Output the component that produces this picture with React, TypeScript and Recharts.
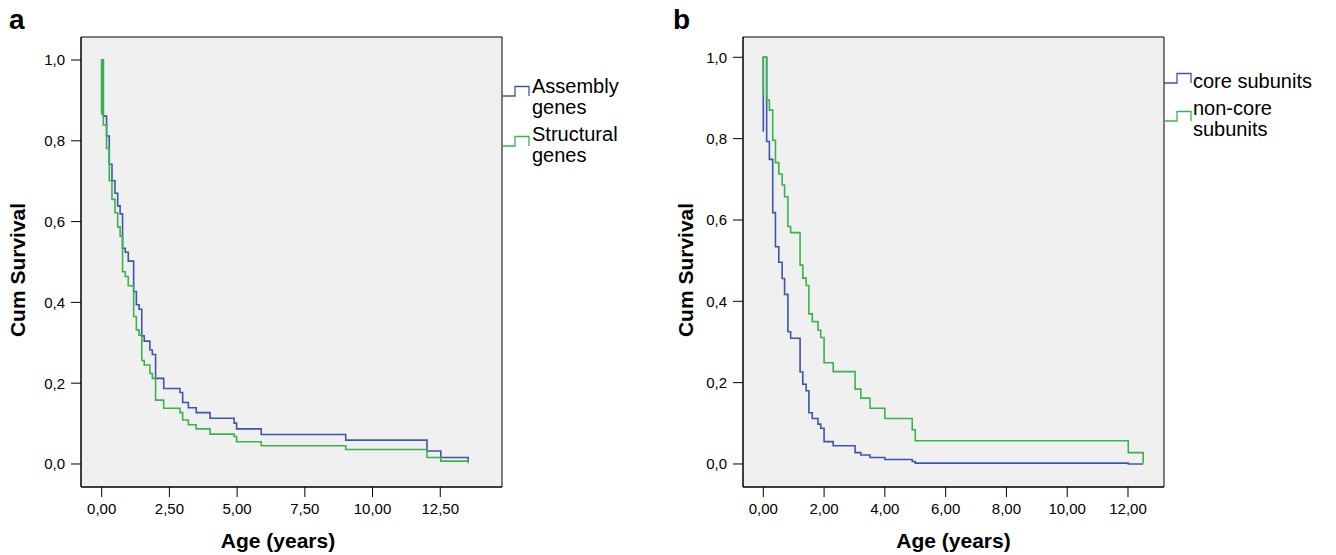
import React from 'react';
import { LineChart, Line, XAxis, YAxis, ReferenceArea, CartesianGrid, Legend, Label } from 'recharts';

// ---------- Data ----------
// Panel a: Kaplan-Meier, Assembly vs Structural genes
const ageA = [0, 0, 0.06, 0.18, 0.28, 0.38, 0.49, 0.59, 0.68, 0.77, 0.87, 0.98, 1.18, 1.28, 1.38, 1.48, 1.57, 1.78, 1.87, 1.99, 2.29, 2.89, 2.99, 3.2, 3.49, 4.0, 4.89, 4.98, 5.89, 9.01, 12.01, 12.52, 13.53];
const assemblySurvival = [0.87, 1.0, 0.861, 0.812, 0.742, 0.701, 0.67, 0.639, 0.619, 0.534, 0.524, 0.502, 0.427, 0.394, 0.383, 0.317, 0.304, 0.282, 0.271, 0.212, 0.187, 0.177, 0.152, 0.139, 0.127, 0.113, 0.101, 0.087, 0.073, 0.059, 0.032, 0.016, 0.006];
const structuralSurvival = [0.864, 1.0, 0.839, 0.781, 0.701, 0.655, 0.622, 0.587, 0.564, 0.476, 0.464, 0.441, 0.365, 0.332, 0.319, 0.256, 0.245, 0.224, 0.212, 0.158, 0.138, 0.127, 0.109, 0.097, 0.087, 0.074, 0.068, 0.055, 0.045, 0.036, 0.016, 0.007, 0.002];

// Panel b: core vs non-core subunits
const ageB = [0, 0, 0.11, 0.2, 0.31, 0.4, 0.51, 0.62, 0.7, 0.81, 0.9, 1.21, 1.3, 1.41, 1.5, 1.61, 1.8, 1.89, 2.0, 2.3, 3.02, 3.21, 3.51, 4.0, 4.9, 5.0, 12.01, 12.5];
const coreSurvival = [0.817, 1.0, 0.793, 0.749, 0.618, 0.534, 0.496, 0.456, 0.417, 0.325, 0.309, 0.226, 0.196, 0.18, 0.126, 0.112, 0.098, 0.088, 0.055, 0.045, 0.028, 0.022, 0.016, 0.011, 0.006, 0.002, 0.0, 0.0];
const nonCoreSurvival = [0.907, 1.0, 0.895, 0.87, 0.796, 0.741, 0.713, 0.686, 0.657, 0.584, 0.569, 0.489, 0.457, 0.439, 0.369, 0.35, 0.329, 0.311, 0.249, 0.227, 0.184, 0.162, 0.137, 0.112, 0.084, 0.057, 0.028, 0.002];

const xTicksA = [0, 2.5, 5, 7.5, 10, 12.5];
const xTicksB = [0, 2, 4, 6, 8, 10, 12];
const yTicks = [0, 0.2, 0.4, 0.6, 0.8, 1.0];

const seriesNamesA = ['Assembly genes', 'Structural genes'];
const seriesNamesB = ['core subunits', 'non-core subunits'];

// ---------- Styles ----------
const FONT = '"Liberation Sans", Arial, Helvetica, sans-serif';
const BLUE = '#3b55b0';
const GREEN = '#36b64a';
const BG = '#f0f0f0';

const toRows = (t: number[], s: number[]) => t.map((x, i) => ({ t: x, s: s[i] }));
const fmtX = (v: number) => v.toFixed(2).replace('.', ',');
const fmtY = (v: number) => v.toFixed(1).replace('.', ',');

const XTitle = (props: any) => {
  const { viewBox, value, dx } = props;
  const { x, y, width, height } = viewBox;
  return (
    <text x={x + width / 2 + dx} y={y + height - 7} textAnchor="middle" fontFamily={FONT} fontSize={21} fontWeight="bold" fill="#000">
      {value}
    </text>
  );
};

const YTitle = (props: any) => {
  const { viewBox, value, cx, dy } = props;
  const { y, height } = viewBox;
  const cy = y + height / 2 + dy;
  return (
    <text x={cx} y={cy} dy="0.355em" textAnchor="middle" transform={`rotate(-90, ${cx}, ${cy})`} fontFamily={FONT} fontSize={21} fontWeight="bold" fill="#000">
      {value}
    </text>
  );
};

type LegendItem = { lines: string[]; color: string; symTop: number; textTop: number };

const StepLegend = ({ items, textLeft, lineH }: { items: LegendItem[]; textLeft: number; lineH: number }) => (
  <div style={{ position: 'relative', width: 170, height: 200, fontFamily: FONT, fontSize: 20, color: '#000' }}>
    {items.map((it, i) => (
      <React.Fragment key={i}>
        <svg style={{ position: 'absolute', left: 0, top: it.symTop }} width={28} height={14}>
          <path d="M0 12 H13 V2.5 H27 V12" fill="none" stroke={it.color} strokeWidth={1.3} />
        </svg>
        <div style={{ position: 'absolute', left: textLeft, top: it.textTop, lineHeight: `${lineH}px`, whiteSpace: 'nowrap' }}>
          {it.lines.map((l, j) => (
            <div key={j}>{l}</div>
          ))}
        </div>
      </React.Fragment>
    ))}
  </div>
);

type PanelProps = {
  left: number;
  letter: string;
  yAxisWidth: number;
  marginRight: number;
  xDomain: [number, number];
  yDomain: [number, number];
  xTicks: number[];
  series: { rows: { t: number; s: number }[]; color: string; name: string }[];
  titleDx: number;
  legendItems: LegendItem[];
  legendTextLeft: number;
  legendLineH: number;
};

const Panel = (p: PanelProps) => {
  const W = 668;
  const H = 555;
  const plotRight = W - p.marginRight;
  return (
    <div style={{ position: 'absolute', left: p.left, top: 0, width: W, height: H }}>
      <div style={{ position: 'absolute', left: p.letter === 'a' ? 9 : 5, top: 0, fontFamily: FONT, fontSize: 28, fontWeight: 'bold', lineHeight: '40px', color: '#000' }}>
        {p.letter}
      </div>
      <LineChart width={W} height={H} margin={{ top: 37, right: p.marginRight, bottom: 0, left: 0 }}>
        <CartesianGrid horizontal={false} vertical={false} fill={BG} fillOpacity={1} />
        <XAxis
          type="number"
          dataKey="t"
          domain={p.xDomain}
          allowDataOverflow
          ticks={p.xTicks}
          tickFormatter={fmtX}
          height={68}
          tickSize={10}
          tickMargin={6}
          stroke="#000"
          axisLine={{ stroke: '#000' }}
          tickLine={{ stroke: '#000' }}
          tick={{ fill: '#000', fontSize: 15, fontFamily: FONT }}
          interval={0}
        >
          <Label content={<XTitle value="Age (years)" dx={p.titleDx} />} />
        </XAxis>
        <YAxis
          type="number"
          domain={p.yDomain}
          allowDataOverflow
          ticks={yTicks}
          tickFormatter={fmtY}
          width={p.yAxisWidth}
          tickSize={10}
          tickMargin={6}
          stroke="#000"
          axisLine={{ stroke: '#000' }}
          tickLine={{ stroke: '#000' }}
          tick={{ fill: '#000', fontSize: 15, fontFamily: FONT }}
          interval={0}
        >
          <Label content={<YTitle value="Cum Survival" cx={18} dy={8} />} />
        </YAxis>
        {p.series.map((s) => (
          <Line
            key={s.name}
            data={s.rows}
            dataKey="s"
            name={s.name}
            type="stepAfter"
            stroke={s.color}
            strokeWidth={1.6}
            dot={false}
            activeDot={false}
            isAnimationActive={false}
          />
        ))}
        <ReferenceArea x1={p.xDomain[0]} x2={p.xDomain[1]} y1={p.yDomain[0]} y2={p.yDomain[1]} fill="none" stroke="#000" strokeWidth={1} ifOverflow="visible" />
        <Legend
          layout="horizontal"
          verticalAlign="middle"
          align="center"
          wrapperStyle={{ position: 'absolute', left: plotRight, top: 0, width: 170, height: 200 }}
          content={() => <StepLegend items={p.legendItems} textLeft={p.legendTextLeft} lineH={p.legendLineH} />}
        />
      </LineChart>
    </div>
  );
};

export default function App() {
  return (
    <div style={{ position: 'absolute', left: 0, top: 0, width: 1336, height: 555, background: '#fff', overflow: 'hidden' }}>
      <Panel
        left={0}
        letter="a"
        yAxisWidth={81}
        marginRight={166}
        xDomain={[-0.764, 14.78]}
        yDomain={[-0.057, 1.0569]}
        xTicks={xTicksA}
        series={[
          { rows: toRows(ageA, assemblySurvival), color: BLUE, name: seriesNamesA[0] },
          { rows: toRows(ageA, structuralSurvival), color: GREEN, name: seriesNamesA[1] },
        ]}
        titleDx={-13.5}
        legendItems={[
          { lines: ['Assembly', 'genes'], color: BLUE, symTop: 84, textTop: 75.5 },
          { lines: ['Structural', 'genes'], color: GREEN, symTop: 134, textTop: 124 },
        ]}
        legendTextLeft={30}
        legendLineH={21}
      />
      <Panel
        left={668}
        letter="b"
        yAxisWidth={75}
        marginRight={172}
        xDomain={[-0.668, 13.185]}
        yDomain={[-0.0566, 1.0499]}
        xTicks={xTicksB}
        series={[
          { rows: toRows(ageB, coreSurvival), color: BLUE, name: seriesNamesB[0] },
          { rows: toRows(ageB, nonCoreSurvival), color: GREEN, name: seriesNamesB[1] },
        ]}
        titleDx={0}
        legendItems={[
          { lines: ['core subunits'], color: BLUE, symTop: 71, textTop: 70.5 },
          { lines: ['non-core', 'subunits'], color: GREEN, symTop: 109, textTop: 97.5 },
        ]}
        legendTextLeft={29}
        legendLineH={21}
      />
    </div>
  );
}
